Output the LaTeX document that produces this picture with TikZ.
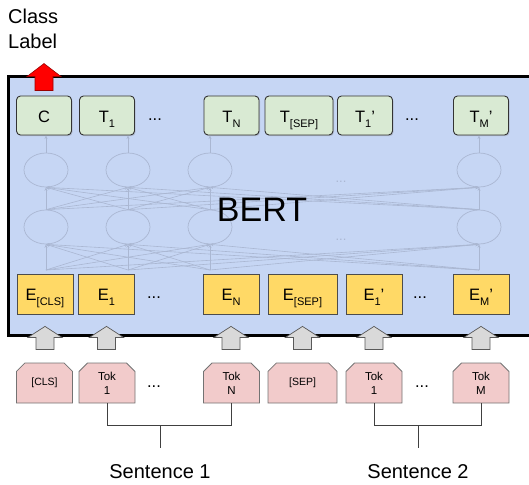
\documentclass[tikz,border=0pt]{standalone}
\usepackage{fontspec}
\setmainfont{Liberation Sans}
\usetikzlibrary{shapes.misc,shapes.geometric,arrows.meta,calc,shadows}

\definecolor{bertblue}{RGB}{198,214,244}
\definecolor{outgreen}{RGB}{217,234,211}
\definecolor{embyellow}{RGB}{255,217,102}
\definecolor{tokpink}{RGB}{242,203,203}
\definecolor{netline}{RGB}{170,183,210}
\definecolor{arrowgray}{RGB}{217,217,217}

\newcommand{\lowsub}[1]{\raisebox{-5pt}{\fontsize{11}{11}\selectfont #1}}

\tikzset{
  outbox/.style={draw=black!80, fill=outgreen, line width=0.9pt, rounded corners=4pt,
    minimum width=55pt, minimum height=39pt, inner sep=0pt, text height=13pt, text depth=0pt,
    font=\fontsize{16.5}{16.5}\selectfont,
    drop shadow={shadow xshift=1pt, shadow yshift=-1.2pt, opacity=0.3}},
  embbox/.style={draw=black!70, fill=embyellow, line width=0.8pt,
    minimum width=56pt, minimum height=40pt, inner sep=0pt, text height=13pt, text depth=0pt,
    font=\fontsize{16.5}{16.5}\selectfont},
  tokbox/.style={chamfered rectangle, chamfered rectangle corners={north west,north east},
    chamfered rectangle xsep=5pt, draw=black!55, fill=tokpink, line width=0.8pt,
    minimum width=56pt, minimum height=40pt, inner sep=0pt, align=center,
    font=\fontsize{11.5}{14}\selectfont},
  rowdots/.style={font=\fontsize{16.5}{16.5}\selectfont, inner sep=0pt},
  netnode/.style={ellipse, draw=netline, line width=0.7pt, minimum width=44pt, minimum height=34pt, inner sep=0pt},
  netedge/.style={draw=netline, line width=0.6pt, -{Stealth[length=3.5pt,width=3pt]}},
  netdots/.style={text=netline, font=\fontsize{13}{13}\selectfont, inner sep=0pt},
  blockarrow/.style={draw=black!65, fill=arrowgray, line width=0.7pt},
  bracket/.style={draw=black!75, line width=0.9pt},
  caption/.style={font=\fontsize{20}{25}\selectfont, inner sep=0pt}
}

\begin{document}
\begin{tikzpicture}[x=1pt,y=-1pt]
\useasboundingbox (0,0) rectangle (529,484);

% Draw the BERT frame (it runs on past the right edge)
\draw[line width=3pt, fill=bertblue] (8,77) rectangle (575,335);

% Draw the faint network inside the frame
\foreach \i/\x in {1/46,2/128,3/210,4/479} {
  \node[netnode] (lo\i) at (\x,227) {};
  \node[netnode] (up\i) at (\x,170) {};
  \coordinate (in\i) at (\x,270);
}
\foreach \i in {1,...,4}
  \foreach \j in {1,...,4} {
    \draw[netedge] (in\i) -- (lo\j.south);
    \draw[netedge] (lo\i.north) -- (up\j.south);
  }
\node[netdots] (ndots1) at (341,182) {...};
\node[netdots] (ndots2) at (341,240) {...};
\node[font=\fontsize{34}{34}\selectfont] (bertlbl) at (262,210) {BERT};

% Draw the output row
\node[outbox] (tc)  at (44,115.5)  {C};
\node[outbox] (t1)  at (107,115.5) {T\lowsub{1}};
\node[rowdots] (tdots1) at (155,120) {...};
\node[outbox] (tn)  at (231.5,115.5) {T\lowsub{N}};
\node[outbox, minimum width=68pt] (tsep) at (299,115.5) {T\lowsub{[SEP]}};
\node[outbox] (t1b) at (365,115.5) {T\lowsub{1}'};
\node[rowdots] (tdots2) at (412,120) {...};
\node[outbox] (tmb) at (481,115.5) {T\lowsub{M}'};

\foreach \i/\t in {1/tc,2/t1,3/tn,4/tmb}
  \draw[netedge] (up\i.north) -- (up\i.north |- \t.south);

% Draw the embedding row
\node[embbox] (ecls) at (45,294)    {E\lowsub{[CLS]}};
\node[embbox] (e1)   at (106.5,294) {E\lowsub{1}};
\node[rowdots] (edots1) at (154,298) {...};
\node[embbox] (en)   at (231,294)   {E\lowsub{N}};
\node[embbox, minimum width=69pt] (esep) at (302.5,294) {E\lowsub{[SEP]}};
\node[embbox] (e1b)  at (374,294)   {E\lowsub{1}'};
\node[rowdots] (edots2) at (420,298) {...};
\node[embbox] (emb)  at (481,294)   {E\lowsub{M}'};

% Class label and its red arrow
\node[caption, align=left, anchor=north west] (classlbl) at (8,8.4) {Class\\Label};
\draw[fill=red, draw=red!60!black, line width=0.6pt] ($(tc.north)+(0,-5)$) -- ++(9,0) -- ++(0,-14)
  -- ++(8,0) -- ++(-17,-13) -- ++(-17,13) -- ++(8,0) -- ++(0,14) -- cycle;

% Gray arrows into the embeddings
\foreach \e in {ecls,e1,en,esep,e1b,emb}
  \draw[blockarrow] ($(\e.south)+(0,12)$) -- ++(17,11) -- ++(-8,0) -- ++(0,12)
    -- ++(-18,0) -- ++(0,-12) -- ++(-8,0) -- cycle;

% Draw the input tokens
\node[tokbox] (tkcls) at (44.5,383) {\fontsize{10.5}{10.5}\selectfont [CLS]};
\node[tokbox] (tok1)  at (107,383)   {Tok\\1};
\node[rowdots] (kdots1) at (154,387) {...};
\node[tokbox] (tokn)  at (231.5,383) {Tok\\N};
\node[tokbox, minimum width=69pt] (tksep) at (302.5,383) {\fontsize{10.5}{10.5}\selectfont [SEP]};
\node[tokbox] (tok1b) at (374,383)   {Tok\\1};
\node[rowdots] (kdots2) at (422,387) {...};
\node[tokbox] (tokm)  at (481,383)   {Tok\\M};

% Sentence brackets
\node[caption, anchor=base] (sent1) at (160,478) {Sentence 1};
\node[caption, anchor=base] (sent2) at (418,478) {Sentence 2};
\draw[bracket] (tok1.south) -- ++(0,22) coordinate (br1) -| (tokn.south);
\draw[bracket] (br1 -| sent1.north) -- ($(sent1.north)+(0,-16)$);
\draw[bracket] (tok1b.south) -- ++(0,22) coordinate (br2) -| (tokm.south);
\draw[bracket] (br2 -| sent2.north) -- ($(sent2.north)+(0,-16)$);

\end{tikzpicture}
\end{document}
